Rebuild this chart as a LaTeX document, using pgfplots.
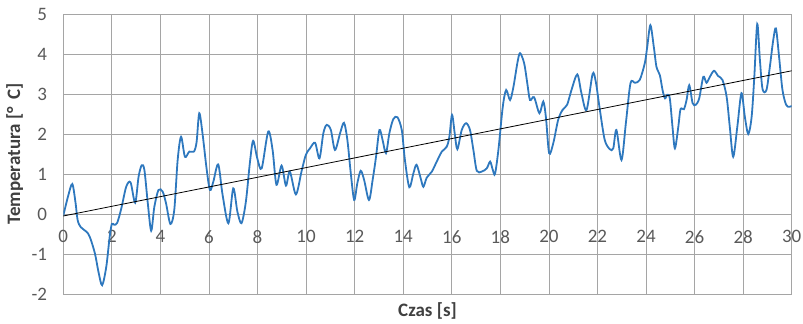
\documentclass[border=0pt]{standalone}
\usepackage{pgfplots}
\pgfplotsset{compat=1.18}
\usepackage{fontspec}
\setmainfont{Carlito}
\definecolor{serie}{RGB}{46,120,190}
\definecolor{tickc}{RGB}{89,89,89}
\definecolor{titc}{RGB}{64,64,64}
\definecolor{gridc}{RGB}{165,165,165}
\begin{document}
\begin{tikzpicture}
\begin{axis}[
  scale only axis,
  width=728.4bp, height=280bp,
  xmin=0, xmax=30, ymin=-2, ymax=5,
  xtick={0,2,...,30},
  xticklabels={0,2,4,6,8,10,12,14,16,18,20,22,24,26,28,30},
  ytick={-2,-1,0,1,2,3,4,5},
  yticklabels={-2,-1,0,1,2,3,4,5},
  grid=major,
  grid style={color=gridc, line width=0.8bp},
  axis line style={color=gridc, line width=0.8bp},
  major tick length=0pt,
  tick style={draw=none},
  ticklabel style={font=\fontsize{19bp}{22bp}\selectfont, text=tickc, inner sep=0pt},
  xticklabel style={anchor=north, yshift=64bp},
  yticklabel style={anchor=east, xshift=-16bp},
  xlabel={Czas [s]},
  ylabel={Temperatura [°\,\ C]},
  label style={font=\bfseries\fontsize{19bp}{22bp}\selectfont, text=titc, inner sep=0pt},
  xlabel style={at={(axis description cs:0.5,0)}, anchor=north, yshift=-8bp},
  ylabel style={at={(axis description cs:0,0.5)}, anchor=south, yshift=40bp},
  clip=true,
]
\addplot[serie, line width=1.8bp, smooth, tension=0.5] coordinates {
(0.00,-0.04) (0.20,0.45) (0.37,0.75) (0.50,0.30) (0.59,-0.15) (0.72,-0.33)
(0.95,-0.44) (1.09,-0.57) (1.30,-0.98) (1.45,-1.45) (1.60,-1.78) (1.77,-1.32)
(1.91,-0.57) (2.00,-0.25) (2.10,-0.27) (2.22,-0.22) (2.39,0.14) (2.59,0.68)
(2.77,0.79) (2.96,0.28) (3.10,0.93) (3.23,1.22) (3.34,1.10) (3.48,0.27)
(3.62,-0.42) (3.75,0.18) (3.92,0.60) (4.09,0.56) (4.23,0.27) (4.41,-0.25)
(4.57,0.10) (4.71,1.35) (4.85,1.93) (5.01,1.43) (5.19,1.56) (5.38,1.56)
(5.49,1.80) (5.60,2.52) (5.74,1.98) (5.90,1.14) (6.04,0.60) (6.18,0.81)
(6.38,1.24) (6.56,0.48) (6.80,-0.23) (7.00,0.64) (7.17,0.06) (7.34,-0.23)
(7.52,0.31) (7.69,1.31) (7.82,1.83) (7.99,1.39) (8.17,1.14) (8.44,2.06)
(8.62,1.60) (8.78,0.73) (8.99,1.21) (9.17,0.71) (9.33,1.06) (9.58,0.49)
(9.81,1.06) (9.99,1.48) (10.16,1.64) (10.37,1.78) (10.55,1.39) (10.71,2.02)
(10.85,2.23) (11.02,2.10) (11.19,1.60) (11.40,2.02) (11.56,2.28) (11.70,1.85)
(11.84,1.02) (11.98,0.35) (12.11,0.77) (12.25,1.08) (12.39,0.85) (12.59,0.35)
(12.74,0.85) (12.88,1.43) (13.02,2.10) (13.15,1.85) (13.29,1.52) (13.43,2.02)
(13.59,2.37) (13.76,2.42) (13.94,2.10) (14.07,1.35) (14.25,0.67) (14.42,1.02)
(14.55,1.23) (14.72,0.89) (14.83,0.68) (14.97,0.91) (15.18,1.06) (15.38,1.31)
(15.59,1.56) (15.79,1.68) (15.90,1.93) (16.01,2.48) (16.12,2.02) (16.23,1.62)
(16.41,2.10) (16.59,2.27) (16.75,2.10) (16.89,1.60) (17.03,1.08) (17.23,1.06)
(17.44,1.14) (17.58,1.31) (17.69,1.10) (17.78,1.00) (17.92,1.60) (18.10,2.68)
(18.24,3.10) (18.40,2.85) (18.54,3.18) (18.70,3.77) (18.81,4.02) (18.98,3.77)
(19.11,3.27) (19.22,2.85) (19.39,2.92) (19.61,2.52) (19.77,2.81) (19.88,2.40)
(20.01,1.52) (20.18,1.77) (20.38,2.35) (20.56,2.60) (20.75,2.73) (20.93,3.10)
(21.17,3.49) (21.34,3.02) (21.55,2.60) (21.80,3.50) (21.93,3.31) (22.10,2.60)
(22.30,1.85) (22.51,1.62) (22.65,1.64) (22.78,2.10) (22.99,1.35) (23.17,2.27)
(23.36,3.27) (23.54,3.28) (23.74,3.35) (23.95,3.77) (24.05,4.18) (24.18,4.72)
(24.32,4.18) (24.43,3.68) (24.57,3.47) (24.68,3.10) (24.78,2.89) (24.88,2.98)
(24.98,2.89) (25.09,2.18) (25.19,1.64) (25.33,2.18) (25.42,2.62) (25.56,2.62)
(25.67,2.85) (25.78,3.22) (25.92,2.77) (26.05,2.73) (26.19,2.89) (26.36,3.43)
(26.49,3.28) (26.63,3.43) (26.80,3.58) (26.97,3.45) (27.15,3.35) (27.32,2.93)
(27.45,2.18) (27.59,1.43) (27.76,2.18) (27.93,3.02) (28.07,2.43) (28.21,2.00)
(28.35,2.43) (28.46,3.43) (28.58,4.75) (28.69,3.85) (28.80,3.12) (28.96,3.10)
(29.10,3.68) (29.24,4.35) (29.35,4.64) (29.48,3.93) (29.62,3.10) (29.77,2.73)
(29.90,2.68) (30.00,2.70)
};
\addplot[black, line width=0.8bp] coordinates {(0,-0.05) (30,3.58)};
\coordinate (bl) at (rel axis cs:0,0);
\coordinate (tr) at (rel axis cs:1,1);
\end{axis}
\pgfresetboundingbox
\path ([shift={(-63.3bp,-30bp)}]bl) rectangle ([shift={(11.3bp,14bp)}]tr);
\end{tikzpicture}
\end{document}
